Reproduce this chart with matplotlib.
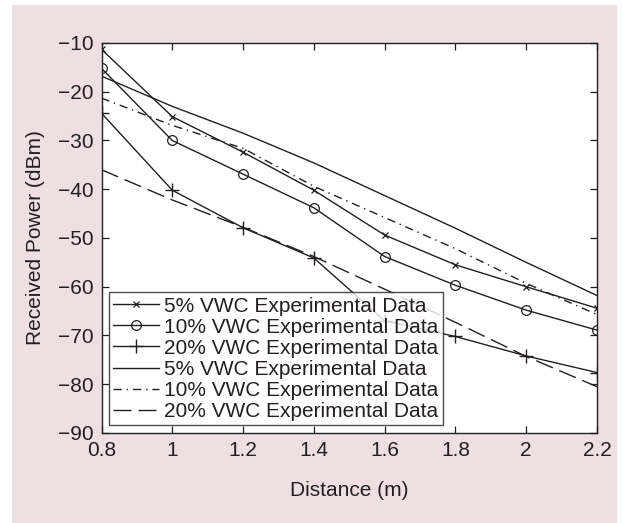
import matplotlib
matplotlib.use("Agg")
import matplotlib.pyplot as plt
from matplotlib.patches import Rectangle

plt.rcParams['font.family'] = ['Liberation Sans', 'DejaVu Sans']

distance = [0.8, 1.0, 1.2, 1.4, 1.6, 1.8, 2.0, 2.2]

# experimental data (dBm)
exp_5 = [-11.3, -25.1, -32.4, -40.2, -49.4, -55.5, -60.0, -64.4]
exp_10 = [-15.2, -30.0, -36.9, -43.8, -53.8, -59.7, -64.8, -68.9]
exp_20 = [-24.4, -40.2, -47.9, -54.1, -67.0, -70.2, -74.2, -77.6]

# model curves (dBm)
mod_5 = [-16.8, -23.0, -28.5, -34.6, -41.3, -48.0, -55.0, -61.8]
mod_10 = [-21.3, -26.9, -31.6, -39.4, -45.8, -52.2, -59.3, -65.7]
mod_20 = [-36.0, -42.2, -47.8, -53.8, -60.5, -67.3, -74.3, -80.5]

labels = ["5% VWC Experimental Data", "10% VWC Experimental Data",
          "20% VWC Experimental Data", "5% VWC Experimental Data",
          "10% VWC Experimental Data", "20% VWC Experimental Data"]

xticks = [0.8, 1.0, 1.2, 1.4, 1.6, 1.8, 2.0, 2.2]
xticklabels = ["0.8", "1", "1.2", "1.4", "1.6", "1.8", "2", "2.2"]
yticks = [-90, -80, -70, -60, -50, -40, -30, -20, -10]

ink = '#231f20'
pink = '#eedfe3'
fs = 15

fig = plt.figure(figsize=(6.22, 5.23), dpi=100)
fig.patch.set_facecolor('white')
fig.patches.append(Rectangle((12 / 622, 0), (617 - 12) / 622, 1 - 5 / 523,
                             transform=fig.transFigure, facecolor=pink,
                             edgecolor='none', zorder=-10))

ax = fig.add_axes([101.5 / 622, 1 - 433 / 523, (597 - 101.5) / 622, (433 - 43) / 523])
ax.set_zorder(5)
ax.set_facecolor('white')

lw = 1.0
ax.plot(distance, exp_5, color=ink, lw=lw, marker='x', ms=4.5, mew=0.9, label=labels[0])
ax.plot(distance, exp_10, color=ink, lw=lw, marker='o', ms=7, mfc='none', mew=0.9, label=labels[1])
ax.plot(distance, exp_20, color=ink, lw=lw, marker='+', ms=10, mew=1.0, label=labels[2])
ax.plot(distance, mod_5, color=ink, lw=lw, ls='-', label=labels[3])
ax.plot(distance, mod_10, color=ink, lw=lw, ls=(0, (6, 3.5, 1, 3.5)), label=labels[4])
ax.plot(distance, mod_20, color=ink, lw=lw, ls=(0, (13, 5)), label=labels[5])

ax.set_xlim(0.8, 2.2)
ax.set_ylim(-90, -10)
ax.set_xticks(xticks)
ax.set_xticklabels(xticklabels)
ax.set_yticks(yticks)
ax.set_yticklabels([f"\u2212{abs(v)}" for v in yticks])
ax.tick_params(direction='in', length=5, width=0.9, top=True, right=True,
               labelsize=fs, colors=ink, pad=6)
for sp in ax.spines.values():
    sp.set_linewidth(1.0)
    sp.set_color(ink)

ax.set_xlabel("Distance (m)", fontsize=fs, color=ink, labelpad=15)
ax.set_ylabel("Received Power (dBm)", fontsize=fs, color=ink, labelpad=9)

leg = ax.legend(loc='lower left', bbox_to_anchor=(0.015, 0.02), fontsize=fs,
                frameon=True, fancybox=False, edgecolor=ink, handlelength=2.2,
                handletextpad=0.25, labelspacing=0.1, borderpad=0.2,
                borderaxespad=0.0)
leg.get_frame().set_linewidth(1.0)
for t in leg.get_texts():
    t.set_color(ink)

fig.savefig("out.png", dpi=100)
